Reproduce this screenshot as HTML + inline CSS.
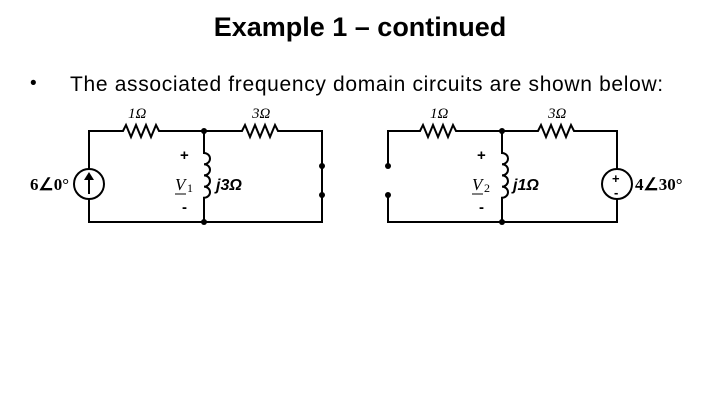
<!DOCTYPE html>
<html><head><style>
body{margin:0;width:720px;height:405px;background:#fff;overflow:hidden;font-family:"Liberation Sans",sans-serif;position:relative}
.t{position:absolute;white-space:nowrap}
</style></head><body>
<div class="t" style="left:0;width:720px;text-align:center;top:12px;font-size:27px;font-weight:bold;">Example 1 – continued</div>
<div class="t" style="left:30px;top:73px;font-size:19px;">•</div>
<div class="t" style="left:70px;top:73px;font-size:21px;letter-spacing:0.67px">The associated frequency domain circuits are shown below:</div>
<svg width="720" height="405" style="position:absolute;left:0;top:0" font-family="Liberation Serif" >
<g stroke="#000" stroke-width="2" fill="none">
<path d="M89 169 V131 H123 l3 -6 l5 12 l5 -12 l5 12 l5 -12 l5 12 l5 -12 l3 6 H242 l3 -6 l5 12 l5 -12 l5 12 l5 -12 l5 12 l5 -12 l3 6 H322 V166 M322 195 V222 H89 V199"/>
<path d="M204 131 V153 a6 5.6 0 0 1 0 11.2 a6 5.6 0 0 1 0 11.2 a6 5.6 0 0 1 0 11.2 a6 5.6 0 0 1 0 11.2 V222"/>
<path d="M322 166 V195"/>
<circle cx="89" cy="184" r="15"/>
<path d="M89 194 V178"/>
<path d="M388 166 V131 H420 l3 -6 l5 12 l5 -12 l5 12 l5 -12 l5 12 l5 -12 l3 6 H538 l3 -6 l5 12 l5 -12 l5 12 l5 -12 l5 12 l5 -12 l3 6 H617 V169 M617 199 V222 H388 V195"/>
<path d="M502 131 V153 a6 5.6 0 0 1 0 11.2 a6 5.6 0 0 1 0 11.2 a6 5.6 0 0 1 0 11.2 a6 5.6 0 0 1 0 11.2 V222"/>
<circle cx="617" cy="184" r="15"/>
</g>
<g fill="#000">
<path d="M89 172 l-5 8 h10z"/>
<circle cx="204" cy="131" r="3"/><circle cx="204" cy="222" r="3"/>
<circle cx="322" cy="166" r="3"/><circle cx="322" cy="195" r="3"/>
<circle cx="502" cy="131" r="3"/><circle cx="502" cy="222" r="3"/>
<circle cx="388" cy="166" r="3"/><circle cx="388" cy="195" r="3"/>
</g>
<g font-size="15" font-style="italic">
<text x="128" y="118">1Ω</text><text x="252" y="118">3Ω</text>
<text x="430" y="118">1Ω</text><text x="548" y="118">3Ω</text>
</g>
<g font-size="15" font-weight="bold" font-family="Liberation Sans">
<text x="180" y="160">+</text><text x="182" y="212">-</text>
<text x="477" y="160">+</text><text x="479" y="212">-</text>
<text x="612" y="183" font-size="13">+</text><text x="614" y="197" font-size="13">-</text>
<text x="216" y="190" font-style="italic" font-size="16">j3Ω</text>
<text x="513" y="190" font-style="italic" font-size="16">j1Ω</text>
</g>
<g font-size="17">
<text x="30" y="190" font-weight="bold">6∠0°</text>
<text x="635" y="190" font-weight="bold">4∠30°</text>
<text x="175" y="190" font-style="italic">V</text><text x="187" y="192" font-size="12">1</text>
<path d="M175 194 h11" stroke="#000"/>
<text x="472" y="190" font-style="italic">V</text><text x="484" y="192" font-size="12">2</text>
<path d="M472 194 h11" stroke="#000"/>
</g>
</svg>
</body></html>
